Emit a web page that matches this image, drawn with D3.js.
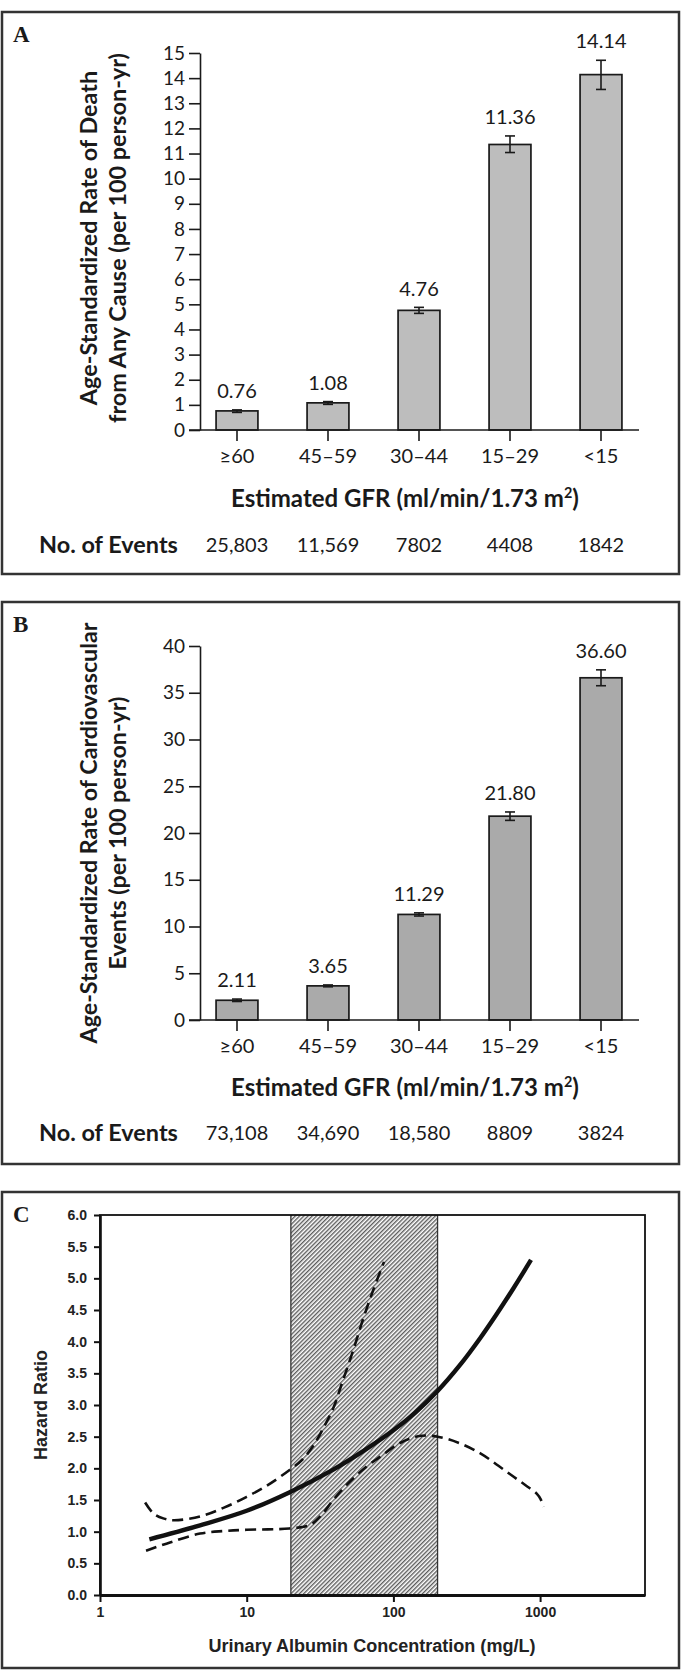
<!DOCTYPE html>
<html>
<head>
<meta charset="utf-8">
<script src="https://cdn.jsdelivr.net/npm/d3@7"></script>
<style>
  html, body { margin: 0; padding: 0; background: #fff; }
  svg { display: block; }
</style>
</head>
<body>
<svg id="chart" width="682" height="1673"></svg>
<script>
// ---------------- DATA ----------------
const categories = ["≥60", "45–59", "30–44", "15–29", "<15"];

const deathRate = [0.76, 1.08, 4.76, 11.36, 14.14];
const deathLow  = [0.70, 1.02, 4.64, 11.04, 13.55];
const deathHigh = [0.80, 1.13, 4.88, 11.70, 14.71];
const deathEvents = ["25,803", "11,569", "7802", "4408", "1842"];
const deathTicks = [0, 1, 2, 3, 4, 5, 6, 7, 8, 9, 10, 11, 12, 13, 14, 15];

const cvRate = [2.11, 3.65, 11.29, 21.80, 36.60];
const cvLow  = [1.98, 3.55, 11.12, 21.35, 35.75];
const cvHigh = [2.24, 3.75, 11.46, 22.25, 37.45];
const cvEvents = ["73,108", "34,690", "18,580", "8809", "3824"];
const cvTicks = [0, 5, 10, 15, 20, 25, 30, 35, 40];

const hrTicks = [0, 0.5, 1, 1.5, 2, 2.5, 3, 3.5, 4, 4.5, 5, 5.5, 6];
const albTicks = [1, 10, 100, 1000];
const microRange = [20, 200];

const hrAlb = [2.17, 4.81, 10, 19.5, 38.9, 63, 100, 141, 200, 282, 389, 501, 657, 867];
const hrVal = [0.88, 1.10, 1.33, 1.62, 1.98, 2.28, 2.60, 2.88, 3.22, 3.62, 4.05, 4.42, 4.84, 5.29];

const upAlb = [2.03, 2.31, 2.7, 3.16, 4.81, 7, 10, 14, 19.5, 24, 28.5, 33, 38.9, 45, 53.3, 62, 73, 86.3];
const upVal = [1.46, 1.29, 1.21, 1.18, 1.24, 1.38, 1.55, 1.74, 1.97, 2.14, 2.36, 2.62, 2.95, 3.37, 3.87, 4.35, 4.82, 5.26];

const loAlb = [2.06, 3, 4.81, 7, 10, 19.5, 27, 32, 38.9, 50, 65.8, 81, 111, 150, 200, 280, 389, 520, 657, 800, 948, 1010, 1052];
const loVal = [0.70, 0.83, 0.97, 1.01, 1.03, 1.05, 1.105, 1.25, 1.50, 1.78, 2.03, 2.18, 2.40, 2.51, 2.50, 2.40, 2.24, 2.04, 1.87, 1.73, 1.60, 1.51, 1.39];

// ---------------- SETUP ----------------
const svg = d3.select("#chart");
const INK = "#1a1a1a";
const SANS = "Lato, 'Open Sans', sans-serif";
const ARIAL = "'Liberation Sans', Arial, sans-serif";
const SERIF = "'Liberation Serif', 'Times New Roman', serif";

function fitWidth(sel, w) {
  const n = sel.node();
  const cur = n.getComputedTextLength();
  const fs = parseFloat(sel.attr("font-size"));
  if (cur > 0) sel.attr("font-size", (fs * w / cur).toFixed(2));
  return parseFloat(sel.attr("font-size"));
}

// panel borders
[[12, 574], [602, 1164], [1192, 1668]].forEach(([t, b]) => {
  svg.append("rect").attr("x", 2).attr("y", t).attr("width", 677).attr("height", b - t)
    .attr("fill", "none").attr("stroke", "#333").attr("stroke-width", 2.5);
});

// panel letters
[["A", 42], ["B", 632], ["C", 1222]].forEach(([l, y]) => {
  svg.append("text").attr("x", 13).attr("y", y).text(l)
    .attr("font-family", SERIF).attr("font-weight", "bold").attr("font-size", 23).attr("fill", INK);
});

// ---------------- BAR PANELS ----------------
function barPanel(cfg) {
  const g = svg.append("g");
  const x = d3.scaleBand().domain(categories).range([191.5, 646.5]).paddingInner(0.54).paddingOuter(0.27);
  const y = d3.scaleLinear().domain([0, cfg.ticks[cfg.ticks.length - 1]]).range(cfg.yRange);

  g.selectAll("rect.bar").data(cfg.rate).join("rect").attr("class", "bar")
    .attr("x", (d, i) => x(categories[i]))
    .attr("width", x.bandwidth())
    .attr("y", d => y(d))
    .attr("height", d => y(0) - y(d))
    .attr("fill", cfg.fill).attr("stroke", INK).attr("stroke-width", 1.7);

  const eb = g.selectAll("g.eb").data(cfg.rate).join("g").attr("class", "eb")
    .attr("stroke", INK).attr("stroke-width", 1.6);
  eb.append("line")
    .attr("x1", (d, i) => x(categories[i]) + x.bandwidth() / 2)
    .attr("x2", (d, i) => x(categories[i]) + x.bandwidth() / 2)
    .attr("y1", (d, i) => y(cfg.high[i])).attr("y2", (d, i) => y(cfg.low[i]));
  [cfg.high, cfg.low].forEach(arr => {
    eb.append("line")
      .attr("x1", (d, i) => x(categories[i]) + x.bandwidth() / 2 - 5)
      .attr("x2", (d, i) => x(categories[i]) + x.bandwidth() / 2 + 5)
      .attr("y1", (d, i) => y(arr[i])).attr("y2", (d, i) => y(arr[i]));
  });

  g.selectAll("text.val").data(cfg.rate).join("text").attr("class", "val")
    .attr("x", (d, i) => x(categories[i]) + x.bandwidth() / 2)
    .attr("y", (d, i) => y(cfg.high[i]) - 19)
    .attr("dy", "0.36em")
    .attr("text-anchor", "middle")
    .attr("font-family", SANS).attr("font-size", 20).attr("fill", INK)
    .text(d => d3.format(".2f")(d));

  const ya = g.append("g").attr("transform", "translate(200,0)")
    .call(d3.axisLeft(y).tickValues(cfg.ticks).tickSize(11).tickSizeOuter(0).tickPadding(4).tickFormat(d3.format("d")));
  ya.selectAll("path,line").attr("stroke", INK).attr("stroke-width", 1.6);
  ya.selectAll("text").attr("font-family", SANS).attr("font-size", 19).attr("fill", INK);

  const xa = g.append("g").attr("transform", `translate(0,${y(0)})`)
    .call(d3.axisBottom(x).tickSize(11).tickSizeOuter(0).tickPadding(8));
  xa.select(".domain").remove();
  xa.selectAll("line").attr("stroke", INK).attr("stroke-width", 1.6);
  xa.selectAll("text").attr("font-family", SANS).attr("font-size", 20).attr("fill", INK);
  g.append("line").attr("x1", 189).attr("x2", 639).attr("y1", y(0)).attr("y2", y(0))
    .attr("stroke", INK).attr("stroke-width", 1.6);

  const xt = g.append("text").attr("x", 405).attr("y", cfg.xTitleY).attr("dy", "0.36em")
    .attr("text-anchor", "middle").attr("font-family", SANS).attr("font-weight", 700)
    .attr("font-size", 21).attr("fill", INK);
  xt.append("tspan").text("Estimated GFR (ml/min/1.73 m");
  xt.append("tspan").text("2").attr("font-size", "0.6em").attr("dy", "-0.6em");
  xt.append("tspan").text(")").attr("dy", "0.36em");
  fitWidth(xt, 348);

  const yt = g.append("g").attr("transform", `translate(0,${cfg.yTitleC})`);
  const l1 = yt.append("text").attr("transform", "translate(89,0) rotate(-90)").attr("dy", "0.36em")
    .attr("text-anchor", "middle").attr("font-family", SANS).attr("font-weight", 700)
    .attr("font-size", 20).attr("fill", INK).text(cfg.yTitle[0]);
  const l2 = yt.append("text").attr("transform", "translate(117.5,0) rotate(-90)").attr("dy", "0.36em")
    .attr("text-anchor", "middle").attr("font-family", SANS).attr("font-weight", 700)
    .attr("font-size", 20).attr("fill", INK).text(cfg.yTitle[1]);
  const fs = fitWidth(cfg.fitLine === 0 ? l1 : l2, cfg.fitW);
  (cfg.fitLine === 0 ? l2 : l1).attr("font-size", fs);

  const nt = g.append("text").attr("x", 39).attr("y", cfg.eventsY).attr("dy", "0.36em")
    .attr("font-family", SANS).attr("font-weight", 700).attr("font-size", 21).attr("fill", INK)
    .text("No. of Events");
  fitWidth(nt, 139);
  g.selectAll("text.ev").data(cfg.events).join("text").attr("class", "ev")
    .attr("x", (d, i) => x(categories[i]) + x.bandwidth() / 2)
    .attr("y", cfg.eventsY).attr("dy", "0.36em")
    .attr("text-anchor", "middle").attr("font-family", SANS).attr("font-size", 20).attr("fill", INK)
    .text(d => d);
}

barPanel({
  rate: deathRate, low: deathLow, high: deathHigh, events: deathEvents, ticks: deathTicks,
  yRange: [430, 53], fill: "#bdbdbd", xTitleY: 498, eventsY: 544.5, yTitleC: 238,
  yTitle: ["Age-Standardized Rate of Death", "from Any Cause (per 100 person-yr)"], fitLine: 1, fitW: 370
});
barPanel({
  rate: cvRate, low: cvLow, high: cvHigh, events: cvEvents, ticks: cvTicks,
  yRange: [1020, 646], fill: "#aaaaaa", xTitleY: 1087, eventsY: 1132.5, yTitleC: 833,
  yTitle: ["Age-Standardized Rate of Cardiovascular", "Events (per 100 person-yr)"], fitLine: 0, fitW: 421
});

// ---------------- PANEL C ----------------
const gc = svg.append("g");
const xC = d3.scaleLog().domain([1, 10 ** (545 / 146.7)]).range([100, 645]);
const yC = d3.scaleLinear().domain([0, 6]).range([1595, 1215]);

const defs = svg.append("defs");
const pat = defs.append("pattern").attr("id", "hatch").attr("patternUnits", "userSpaceOnUse")
  .attr("width", 3).attr("height", 3).attr("patternTransform", "rotate(45)");
pat.append("rect").attr("width", 3).attr("height", 3).attr("fill", "#fff");
pat.append("line").attr("x1", 0.75).attr("x2", 0.75).attr("y1", 0).attr("y2", 3)
  .attr("stroke", "#3a3a3a").attr("stroke-width", 1.15);

gc.append("rect").attr("x", xC(microRange[0])).attr("y", yC(6))
  .attr("width", xC(microRange[1]) - xC(microRange[0])).attr("height", yC(0) - yC(6))
  .attr("fill", "url(#hatch)");
microRange.forEach(v => {
  gc.append("line").attr("x1", xC(v)).attr("x2", xC(v)).attr("y1", yC(6)).attr("y2", yC(0))
    .attr("stroke", "#333").attr("stroke-width", 1.3);
});

gc.append("rect").attr("x", 100).attr("y", yC(6)).attr("width", 545).attr("height", yC(0) - yC(6))
  .attr("fill", "none").attr("stroke", "#111").attr("stroke-width", 1.8);

const line = d3.line().x(d => xC(d[0])).y(d => yC(d[1])).curve(d3.curveCatmullRom.alpha(0.5));
gc.append("path").datum(d3.zip(upAlb, upVal)).attr("d", line)
  .attr("fill", "none").attr("stroke", "#111").attr("stroke-width", 2.6).attr("stroke-dasharray", "11,6");
gc.append("path").datum(d3.zip(loAlb, loVal)).attr("d", line)
  .attr("fill", "none").attr("stroke", "#111").attr("stroke-width", 2.6).attr("stroke-dasharray", "11,6");
gc.append("path").datum(d3.zip(hrAlb, hrVal)).attr("d", line)
  .attr("fill", "none").attr("stroke", "#111").attr("stroke-width", 4.4);

const yaC = gc.append("g").attr("transform", "translate(100,0)")
  .call(d3.axisLeft(yC).tickValues(hrTicks).tickSize(6).tickSizeOuter(0).tickPadding(7).tickFormat(d3.format(".1f")));
yaC.select(".domain").attr("stroke", "#111").attr("stroke-width", 2.6);
yaC.selectAll("line").attr("stroke", "#111").attr("stroke-width", 2);
yaC.selectAll("text").attr("font-family", ARIAL).attr("font-weight", "bold").attr("font-size", 14).attr("fill", "#222");

const xaC = gc.append("g").attr("transform", `translate(0,${yC(0)})`)
  .call(d3.axisBottom(xC).tickValues(albTicks).tickSize(7).tickSizeOuter(0).tickPadding(5).tickFormat(d3.format("d")));
xaC.select(".domain").attr("stroke", "#111").attr("stroke-width", 3);
xaC.selectAll("line").attr("stroke", "#111").attr("stroke-width", 2);
xaC.selectAll("text").attr("font-family", ARIAL).attr("font-weight", "bold").attr("font-size", 14).attr("fill", "#222");

const xtC = gc.append("text").attr("x", 372).attr("y", 1645.5).attr("dy", "0.36em").attr("text-anchor", "middle")
  .attr("font-family", ARIAL).attr("font-weight", "bold").attr("font-size", 16).attr("fill", "#222")
  .text("Urinary Albumin Concentration (mg/L)");
fitWidth(xtC, 327);
const ytC = gc.append("text").attr("transform", "translate(41,1405) rotate(-90)").attr("dy", "0.36em")
  .attr("text-anchor", "middle").attr("font-family", ARIAL).attr("font-weight", "bold")
  .attr("font-size", 16).attr("fill", "#222").text("Hazard Ratio");
fitWidth(ytC, 110);
</script>
</body>
</html>
